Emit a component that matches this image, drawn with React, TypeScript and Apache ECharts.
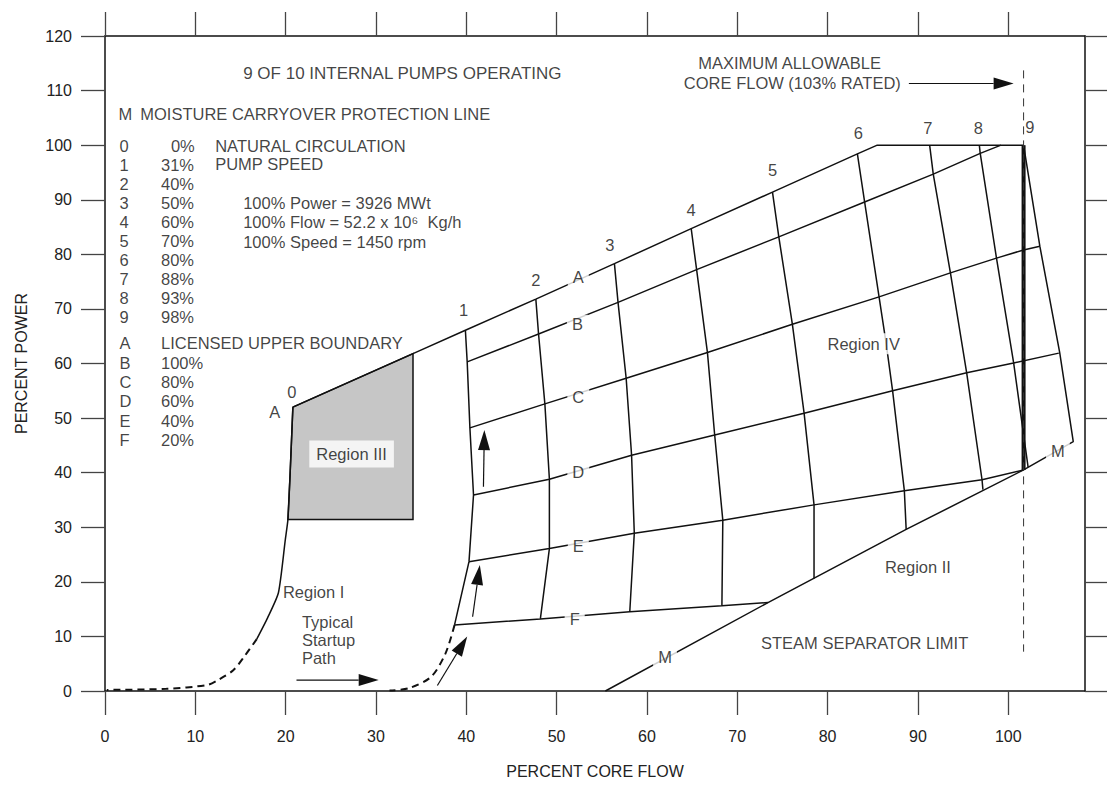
import React, { useEffect, useRef } from 'react';
import * as echarts from 'echarts';

const FONT = '"Liberation Sans", Arial, Helvetica, sans-serif';
const INK = '#111';

// ---- axis ticks ----
const xTickValues = [0, 10, 20, 30, 40, 50, 60, 70, 80, 90, 100];
const yTickValues = [0, 10, 20, 30, 40, 50, 60, 70, 80, 90, 100, 110, 120];

// ---- flow control lines (A..F) ----
const lineA = [[20.8, 52.0], [34.1, 61.8], [39.9, 66.1], [47.7, 71.8], [56.4, 78.3], [64.9, 84.7], [73.9, 91.4], [83.3, 98.4], [85.5, 100], [101.7, 100]];
const lineB = [[40.1, 60.3], [48.0, 65.4], [56.8, 71.2], [65.5, 77.2], [74.6, 83.2], [84.1, 89.6], [91.7, 94.7], [96.9, 98.5], [99.2, 100]];
const lineC = [[40.4, 48.2], [48.7, 52.6], [57.7, 57.3], [66.7, 62.0], [76.1, 67.2], [85.7, 72.2], [93.6, 76.6], [98.7, 79.3], [101.7, 80.8], [103.5, 81.5]];
const lineD = [[40.8, 35.9], [49.2, 38.8], [58.3, 43.2], [67.5, 46.9], [77.4, 50.9], [87.2, 55.0], [95.4, 58.3], [100.6, 60.1], [105.6, 61.9]];
const lineE = [[40.3, 23.7], [49.2, 26.1], [58.6, 28.9], [68.4, 31.3], [78.5, 34.1], [88.5, 36.7], [97.1, 38.7], [101.7, 40.5]];
const lineF = [[38.7, 12.1], [48.2, 13.2], [58.1, 14.5], [68.3, 15.6], [73.4, 16.2]];
// moisture carryover / steam separator line M
const lineM = [[55.4, 0], [73.4, 16.2], [88.7, 29.6], [101.7, 40.5], [107.2, 45.7], [105.7, 62.0], [103.5, 81.5], [101.7, 100]];

// ---- pump speed lines (0..9) ----
const speed0Solid = [[20.8, 52.0], [20.5, 40.0], [20.25, 31.4], [19.96, 27.7], [19.2, 18.0], [18.0, 13.4], [16.8, 9.5]];
const speed0Dashed = [[16.8, 9.5], [15.5, 6.5], [14.2, 3.8], [12.5, 2.0], [11.3, 1.1], [6.8, 0.4], [0.2, 0.2]];
const speed1Solid = [[39.9, 66.1], [40.1, 60.3], [40.4, 48.2], [40.8, 35.9], [40.3, 23.7], [38.7, 12.1]];
const speed1Dashed = [[38.7, 12.1], [37.7, 6.9], [36.1, 2.6], [33.6, 0.5], [31.5, 0.1]];
const speed2 = [[47.7, 71.8], [48.0, 65.4], [48.7, 52.6], [49.2, 38.8], [49.2, 26.1], [48.2, 13.2]];
const speed3 = [[56.4, 78.3], [56.8, 71.2], [57.7, 57.3], [58.3, 43.2], [58.6, 28.9], [58.1, 14.5]];
const speed4 = [[64.9, 84.7], [65.5, 77.2], [66.7, 62.0], [67.5, 46.9], [68.4, 31.3], [68.3, 15.6]];
const speed5 = [[73.9, 91.4], [74.6, 83.2], [76.1, 67.2], [77.4, 50.9], [78.5, 34.1], [78.5, 20.6]];
const speed6 = [[83.3, 98.4], [84.1, 89.6], [85.7, 72.2], [86.5, 63.5], [87.2, 55.0], [88.5, 36.7], [88.7, 29.6]];
const speed7 = [[91.3, 100], [91.7, 94.7], [93.6, 76.6], [95.4, 58.3], [97.1, 38.7], [97.2, 36.9]];
const speed8 = [[96.8, 100], [96.9, 98.5], [98.7, 79.3], [100.6, 60.1], [102.2, 41.0]];
const speed9 = [[101.7, 100], [101.7, 40.5]];
const maxFlowLine = [[101.7, 113.7], [101.7, 7.2]];

// ---- region III (shaded) ----
const regionIII = [[20.8, 52.0], [34.1, 61.8], [34.1, 31.4], [20.25, 31.4], [20.5, 40.0]];

// ---- arrows [x1, y1, x2(tip), y2(tip)] ----
const arrows = [
  [89.0, 111.3, 100.6, 111.3],
  [21.2, 2.0, 30.3, 2.0],
  [41.9, 37.4, 42.0, 47.8],
  [40.7, 13.6, 41.5, 23.1],
  [36.8, 1.0, 40.1, 10.0],
];

// ---- legend texts ----
const speedKeys = ['0', '1', '2', '3', '4', '5', '6', '7', '8', '9'];
const speedPcts = ['0%', '31%', '40%', '50%', '60%', '70%', '80%', '88%', '93%', '98%'];
const flowKeys = ['A', 'B', 'C', 'D', 'E', 'F'];
const flowVals = ['LICENSED UPPER BOUNDARY', '100%', '80%', '60%', '40%', '20%'];

// on-chart labels: [text, x, y]
const speedLabels = [
  ['0', 20.7, 54.8], ['1', 39.7, 69.8], ['2', 47.7, 75.3], ['3', 55.9, 81.7], ['4', 64.9, 88.1],
  ['5', 73.9, 95.5], ['6', 83.4, 102.2], ['7', 91.1, 103.2], ['8', 96.7, 103.2], ['9', 102.4, 103.3],
];
const lineLetterLabels = [
  ['A', 52.4, 75.8], ['B', 52.3, 67.2], ['C', 52.4, 53.8], ['D', 52.4, 40.1], ['E', 52.4, 26.5],
  ['F', 52.0, 13.2], ['M', 62.0, 6.2], ['M', 105.5, 44.0],
];

function txt(text: string, x: number, y: number, o: any = {}) {
  return { value: [x, y], label: { show: true, formatter: text, position: 'inside', ...o } };
}

function line(data: number[][], style: any = {}, extra: any = {}) {
  return {
    type: 'line', data, showSymbol: false, symbol: 'none', silent: true, clip: false, z: 3,
    lineStyle: { color: INK, width: 1.5, ...style }, ...extra,
  };
}

function buildOption() {
  const left = { align: 'left' };
  const texts: any[] = [];
  texts.push(txt('9 OF 10 INTERNAL PUMPS OPERATING', 15.3, 113.2, { align: 'left', fontSize: 17 }));
  texts.push(txt('M', 1.5, 105.7, left));
  texts.push(txt('MOISTURE CARRYOVER PROTECTION LINE', 3.9, 105.7, left));
  speedKeys.forEach((k, i) => {
    const y = 99.9 - i * 3.48;
    texts.push(txt(k, 1.6, y, left));
    texts.push(txt(speedPcts[i], i === 0 ? 7.3 : 6.2, y, left));
  });
  flowKeys.forEach((k, i) => {
    const y = 63.7 - i * 3.54;
    texts.push(txt(k, 1.6, y, left));
    texts.push(txt(flowVals[i], 6.2, y, left));
  });
  texts.push(txt('NATURAL CIRCULATION', 12.2, 99.9, left));
  texts.push(txt('PUMP SPEED', 12.2, 96.6, left));
  texts.push(txt('100% Power = 3926 MWt', 15.3, 89.4, left));
  texts.push(txt('100% Flow = 52.2 x 10⁶  Kg/h', 15.3, 86.0, left));
  texts.push(txt('100% Speed = 1450 rpm', 15.3, 82.3, left));
  texts.push(txt('MAXIMUM ALLOWABLE', 75.8, 115.0));
  texts.push(txt('CORE FLOW (103% RATED)', 76.1, 111.3));
  texts.push(txt('Region IV', 84.0, 63.6, { backgroundColor: '#fff', padding: [2, 2] }));
  texts.push(txt('Region II', 90.0, 22.7));
  texts.push(txt('STEAM SEPARATOR LIMIT', 84.1, 8.8));
  texts.push(txt('Region III', 27.3, 43.4, { backgroundColor: '#fff', padding: [5, 7] }));
  texts.push(txt('Region I', 19.7, 18.1, left));
  texts.push(txt('Typical\nStartup\nPath', 21.8, 9.4, { align: 'left', lineHeight: 18 }));
  texts.push(txt('A', 18.8, 51.1));
  speedLabels.forEach(([t, x, y]) => texts.push(txt(t as string, x as number, y as number)));
  lineLetterLabels.forEach(([t, x, y]) => texts.push(txt(t as string, x as number, y as number, { backgroundColor: '#fff', padding: [1, 5] })));

  const axisCommon = {
    type: 'value', min: 0, splitLine: { show: false },
    axisLine: { show: true, onZero: false, lineStyle: { color: INK, width: 1.5 } },
  };

  return {
    animation: false,
    backgroundColor: '#fff',
    textStyle: { fontFamily: FONT },
    grid: { left: 105, right: 22, top: 36, bottom: 94, containLabel: false },
    xAxis: [
      {
        ...axisCommon, position: 'bottom', max: 108.5,
        axisTick: { show: true, inside: false, length: 24, customValues: xTickValues, lineStyle: { color: '#444', width: 1.3 } },
        axisLabel: { show: true, customValues: xTickValues, margin: 37, fontSize: 16, color: '#222', fontFamily: FONT },
        name: 'PERCENT CORE FLOW', nameLocation: 'middle', nameGap: 72,
        nameTextStyle: { fontSize: 16, color: '#222', fontFamily: FONT },
      },
      {
        ...axisCommon, position: 'top', max: 108.5,
        axisTick: { show: true, inside: false, length: 24, customValues: xTickValues, lineStyle: { color: '#444', width: 1.3 } },
        axisLabel: { show: false },
      },
    ],
    yAxis: [
      {
        ...axisCommon, position: 'left', max: 120, interval: 10,
        axisTick: { show: true, inside: false, length: 24, customValues: yTickValues, lineStyle: { color: '#444', width: 1.3 } },
        axisLabel: { show: true, customValues: yTickValues, margin: 33, fontSize: 16, color: '#222', fontFamily: FONT },
        name: 'PERCENT POWER', nameLocation: 'middle', nameGap: 76,
        nameTextStyle: { fontSize: 16, color: '#222', fontFamily: FONT },
      },
      {
        ...axisCommon, position: 'right', max: 120, interval: 10,
        axisTick: { show: true, inside: false, length: 24, customValues: yTickValues, lineStyle: { color: '#444', width: 1.3 } },
        axisLabel: { show: false },
      },
    ],
    series: [
      {
        type: 'custom', silent: true, z: 1, clip: false,
        data: [regionIII[0]],
        renderItem: (params: any, api: any) => {
          const pts = regionIII.map((p) => api.coord(p));
          return { type: 'polygon', shape: { points: pts }, style: { fill: '#c6c6c6', stroke: INK, lineWidth: 1.5 } };
        },
      },
      line(lineA), line(lineB), line(lineC), line(lineD), line(lineE), line(lineF), line(lineM),
      line(speed0Solid, {}, { smooth: 0.2 }),
      line(speed0Dashed, { type: [7, 5], width: 2 }, { smooth: 0.3 }),
      line(speed1Solid),
      line(speed1Dashed, { type: [7, 5], width: 2 }, { smooth: 0.3 }),
      line(speed2), line(speed3), line(speed4), line(speed5), line(speed6), line(speed7), line(speed8),
      line(speed9, { width: 4 }),
      line(maxFlowLine, { type: [8, 6], width: 1, color: '#333' }),
      {
        type: 'custom', silent: true, z: 4, clip: false,
        data: arrows,
        encode: { x: [0, 2], y: [1, 3] },
        renderItem: (params: any, api: any) => {
          const p1 = api.coord([api.value(0), api.value(1)]);
          const p2 = api.coord([api.value(2), api.value(3)]);
          const dx = p2[0] - p1[0], dy = p2[1] - p1[1];
          const len = Math.sqrt(dx * dx + dy * dy) || 1;
          const ux = dx / len, uy = dy / len;
          const hl = 20, hw = 6;
          const bx = p2[0] - ux * hl, by = p2[1] - uy * hl;
          return {
            type: 'group',
            children: [
              { type: 'line', shape: { x1: p1[0], y1: p1[1], x2: bx, y2: by }, style: { stroke: INK, lineWidth: 1.2 } },
              {
                type: 'polygon',
                shape: { points: [[p2[0], p2[1]], [bx - uy * hw, by + ux * hw], [bx + uy * hw, by - ux * hw]] },
                style: { fill: INK },
              },
            ],
          };
        },
      },
      {
        type: 'scatter', symbolSize: 0, silent: true, z: 10, clip: false,
        data: texts,
        label: { show: true, position: 'inside', color: INK, fontSize: 16.5, fontFamily: FONT },
        labelLayout: { hideOverlap: false },
      },
    ],
  };
}

export default function App() {
  const ref = useRef<HTMLDivElement>(null);
  useEffect(() => {
    const chart = echarts.init(ref.current as HTMLDivElement, null, { renderer: 'svg' });
    chart.setOption(buildOption() as any);
    return () => chart.dispose();
  }, []);
  return (
    <div
      ref={ref}
      style={{ position: 'fixed', left: 0, top: 0, width: 1107, height: 785, background: '#fff' }}
    />
  );
}
